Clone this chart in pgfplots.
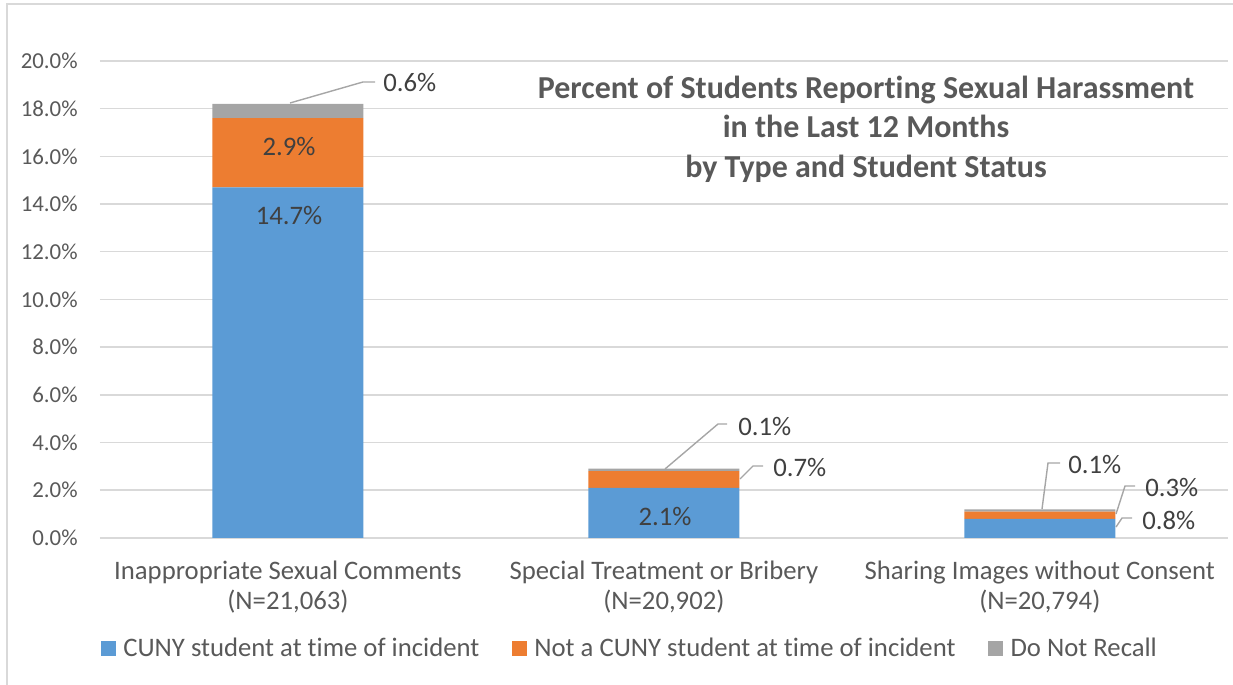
\documentclass[border=0pt]{standalone}
\usepackage{pgfplots}
\pgfplotsset{compat=1.18}
\usepackage{fontspec}
\setmainfont{Carlito}[Ligatures=NoCommon]

\definecolor{cunyblue}{HTML}{5B9BD5}
\definecolor{notcuny}{HTML}{ED7D31}
\definecolor{norecall}{HTML}{A5A5A5}
\definecolor{txt}{HTML}{595959}
\definecolor{lbl}{HTML}{404040}
\definecolor{gridc}{HTML}{D9D9D9}
\definecolor{leader}{HTML}{A6A6A6}

\begin{document}
\begin{tikzpicture}
\begin{axis}[
    scale only axis,
    width=22.56cm, height=9.54cm,
    ybar stacked, bar width=3.02cm,
    xmin=-0.5, xmax=2.5,
    ymin=0, ymax=20,
    xtick={0,1,2},
    xticklabels={{Inappropriate Sexual Comments\\(N=21,063)},
                 {Special Treatment or Bribery\\(N=20,902)},
                 {Sharing Images without Consent\\(N=20,794)}},
    ytick={0,2,...,20},
    yticklabel={\pgfmathprintnumber[fixed,fixed zerofill,precision=1]{\tick}\%},
    /pgf/number format/assume math mode=true,
    axis line style={draw=none},
    major tick length=0pt,
    ymajorgrids,
    grid style={gridc, line width=0.85pt},
    ticklabel style={text=txt},
    yticklabel style={font=\fontsize{13}{15}\selectfont, inner sep=0pt, xshift=-0.44cm},
    xticklabel style={font=\fontsize{15.2}{17}\selectfont, align=center, inner sep=0pt, yshift=-0.46cm},
    legend style={at={(0.4705,-0.2326)}, anchor=center, legend columns=3, draw=none,
        fill=none, font=\fontsize{15.2}{17}\selectfont, text=txt,
        /tikz/every odd column/.append style={column sep=0.08cm},
        /tikz/every even column/.append style={column sep=0.58cm}},
]
% CUNY student at time of incident
\addplot[fill=cunyblue, draw=none,
    legend image code/.code={\fill[cunyblue] (0cm,-0.15cm) rectangle (0.3cm,0.15cm);}]
    coordinates {(0,14.7) (1,2.1) (2,0.8)};
\addlegendentry{CUNY student at time of incident}
% Not a CUNY student at time of incident
\addplot[fill=notcuny, draw=none,
    legend image code/.code={\fill[notcuny] (0cm,-0.15cm) rectangle (0.3cm,0.15cm);}]
    coordinates {(0,2.9) (1,0.7) (2,0.3)};
\addlegendentry{Not a CUNY student at time of incident}
% Do Not Recall
\addplot[fill=norecall, draw=none,
    legend image code/.code={\fill[norecall] (0cm,-0.15cm) rectangle (0.3cm,0.15cm);}]
    coordinates {(0,0.6) (1,0.1) (2,0.1)};
\addlegendentry{Do Not Recall}
\end{axis}

% annotations, in pixel units of the reference (origin top left)
\begin{scope}[shift={(-2cm,10.76cm)}, x=0.02cm, y=-0.02cm]
  \node[font=\bfseries\fontsize{18.2}{22.5}\selectfont, text=txt, align=center]
    at (866,129) {Percent of Students Reporting Sexual Harassment\\in the Last 12 Months\\by Type and Student Status};

  \begin{scope}[every node/.style={font=\fontsize{15.2}{17}\selectfont, text=lbl, inner sep=0pt}]
    \node at (289,216) {14.7\%};
    \node at (289,147) {2.9\%};
    \node at (665,517) {2.1\%};
    \node[anchor=west] at (383,83) {0.6\%};
    \node[anchor=west] at (738,427) {0.1\%};
    \node[anchor=west] at (773,468) {0.7\%};
    \node[anchor=west] at (1068,465) {0.1\%};
    \node[anchor=west] at (1145,488) {0.3\%};
    \node[anchor=west] at (1142,520) {0.8\%};
  \end{scope}

  \begin{scope}[leader, line width=0.8pt]
    \draw (375,82) -- (363,82) -- (290,103);
    \draw (727,424) -- (718,424) -- (665,469);
    \draw (763,466) -- (753,466) -- (740,479);
    \draw (1060,463) -- (1048,463) -- (1042,509);
    \draw (1135,486) -- (1125,486) -- (1116,514);
    \draw (1132,518) -- (1122,518) -- (1116,527);
  \end{scope}

  \draw[gridc, line width=1.1pt] (7,685) -- (7,4) -- (1233,4);
  \pgfresetboundingbox
  \path[use as bounding box] (0,0) rectangle (1233,685);
\end{scope}
\end{tikzpicture}
\end{document}
